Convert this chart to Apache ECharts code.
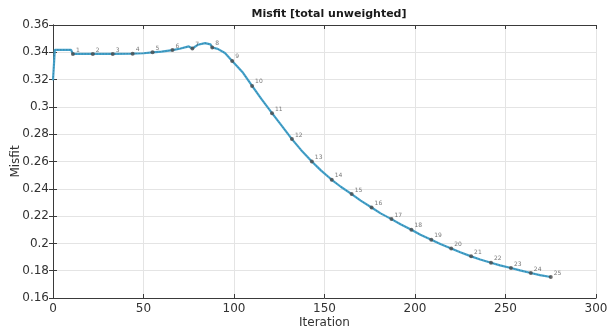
<!DOCTYPE html>
<html>
<head>
<meta charset="utf-8">
<script src="https://cdn.jsdelivr.net/npm/echarts@6/dist/echarts.min.js"></script>
<style>
html,body{margin:0;padding:0;background:#fff;}
#chart{width:608px;height:329px;}
</style>
</head>
<body>
<div id="chart"></div>
<script>
// Misfit history over the inversion iterations
var lineIter = [0,1,10,11,22,33,44,50,55,60,66,70,75,77,80,84,87,88,91,95,99,105,110,115,121,126,132,137,143,148,154,159,165,170,176,181,187,192,198,203,209,214,220,225,231,236,242,247,253,258,264,269,275];
var lineMisfit = [0.3195,0.3418,0.3418,0.3388,0.3388,0.3388,0.3390,0.3393,0.3400,0.3405,0.3416,0.3426,0.3443,0.3428,0.3455,0.3467,0.3458,0.3435,0.3425,0.3395,0.3337,0.3250,0.3154,0.3060,0.2954,0.2868,0.2764,0.2685,0.2600,0.2535,0.2466,0.2415,0.2361,0.2313,0.2263,0.2220,0.2178,0.2140,0.2100,0.2063,0.2027,0.1995,0.1963,0.1935,0.1905,0.1882,0.1858,0.1839,0.1820,0.1802,0.1783,0.1768,0.1754];

// Outer-loop checkpoints, numbered 1..25
var markerIter = [11,22,33,44,55,66,77,88,99,110,121,132,143,154,165,176,187,198,209,220,231,242,253,264,275];
var markerMisfit = [0.3388,0.3388,0.3388,0.3390,0.3400,0.3416,0.3428,0.3435,0.3337,0.3154,0.2954,0.2764,0.2600,0.2466,0.2361,0.2263,0.2178,0.2100,0.2027,0.1963,0.1905,0.1858,0.1820,0.1783,0.1754];

var xTicks = [0,50,100,150,200,250,300];
var yTicks = [0.16,0.18,0.2,0.22,0.24,0.26,0.28,0.3,0.32,0.34,0.36];

var FONT = 'DejaVu Sans';
var lineData = lineIter.map(function(x,i){return [x,lineMisfit[i]];});
var markerData = markerIter.map(function(x,i){return {value:[x,markerMisfit[i]], name:String(i+1)};});

var chart = echarts.init(document.getElementById('chart'), null, {renderer:'canvas'});

// top / right edges of the axes box, ticks only
function boxAxis(pos, isX){
  return {
    type:'value', position:pos,
    min: isX ? xTicks[0] : yTicks[0],
    max: isX ? xTicks[xTicks.length-1] : yTicks[yTicks.length-1],
    interval: isX ? 50 : 0.02,
    axisLine:{show:true, lineStyle:{color:'#3a3a3a', width:1}},
    axisTick:{show:true, inside:true, length:4, lineStyle:{color:'#3a3a3a'}},
    axisLabel:{show:false},
    splitLine:{show:false}
  };
}

chart.setOption({
  animation:false,
  backgroundColor:'#ffffff',
  title:{
    text:'Misfit [total unweighted]',
    left:324, top:4, textAlign:'center',
    textStyle:{fontFamily:FONT, fontSize:11, fontWeight:'bold', color:'#1a1a1a'}
  },
  grid:{left:53, right:12, top:25, bottom:31, containLabel:false, outerBoundsMode:'none'},
  xAxis:[{
    type:'value', position:'bottom',
    min:xTicks[0], max:xTicks[xTicks.length-1], interval:50,
    name:'Iteration', nameLocation:'middle', nameGap:19, nameMoveOverlap:false,
    nameTextStyle:{fontFamily:FONT, fontSize:12, color:'#333'},
    axisLine:{show:true, onZero:false, lineStyle:{color:'#3a3a3a', width:1}},
    axisTick:{show:true, inside:true, length:4, lineStyle:{color:'#3a3a3a'}},
    axisLabel:{fontFamily:FONT, fontSize:12, color:'#333', margin:5},
    splitLine:{show:true, lineStyle:{color:'#e4e4e4', width:1}}
  }, boxAxis('top',true)],
  yAxis:[{
    type:'value', position:'left',
    min:yTicks[0], max:yTicks[yTicks.length-1], interval:0.02,
    name:'Misfit', nameLocation:'middle', nameGap:31, nameRotate:90, nameMoveOverlap:false,
    nameTextStyle:{fontFamily:FONT, fontSize:12, color:'#333'},
    axisLine:{show:true, onZero:false, lineStyle:{color:'#3a3a3a', width:1}},
    axisTick:{show:true, inside:true, length:4, lineStyle:{color:'#3a3a3a'}},
    axisLabel:{fontFamily:FONT, fontSize:12, color:'#333', margin:4,
      formatter:function(v){return String(parseFloat(v.toFixed(2)));}},
    splitLine:{show:true, lineStyle:{color:'#e4e4e4', width:1}}
  }, boxAxis('right',false)],
  series:[{
    type:'line', data:lineData, showSymbol:false, smooth:false,
    lineStyle:{color:'#45a3cc', width:2.2}, z:2
  },{
    type:'line', data:lineData, showSymbol:false, smooth:false,
    lineStyle:{color:'#2b6b87', width:1, type:[1,2], opacity:0.7}, z:3
  },{
    type:'scatter', data:markerData, symbol:'circle', symbolSize:4,
    itemStyle:{color:'#4a4a4a'}, z:4,
    label:{show:true, position:'right', distance:1, offset:[0,-4],
      formatter:function(p){return p.name;},
      fontFamily:FONT, fontSize:6, color:'#555'}
  }]
});
</script>
</body>
</html>
